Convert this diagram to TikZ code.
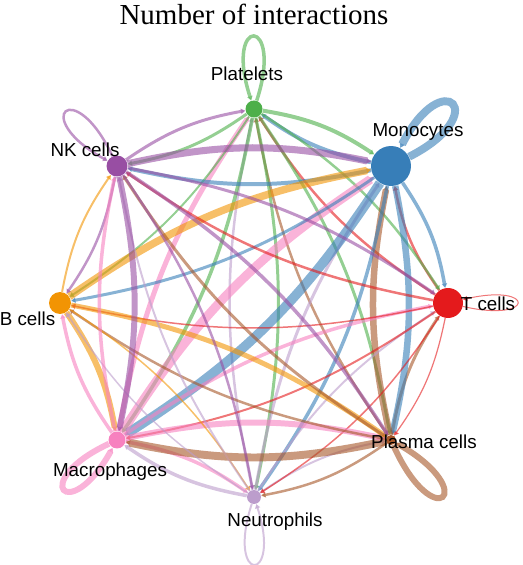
\documentclass[tikz,border=0pt]{standalone}
\usepackage{fontspec}
\setmainfont{Liberation Sans}
\newfontfamily\titlefont{Liberation Serif}
\usetikzlibrary{arrows.meta}
\definecolor{tcol}{HTML}{E41A1C}
\definecolor{monocol}{HTML}{377EB8}
\definecolor{pltcol}{HTML}{4DAF4A}
\definecolor{nkcol}{HTML}{984EA3}
\definecolor{bcol}{HTML}{F29403}
\definecolor{macrocol}{HTML}{F781BF}
\definecolor{neutcol}{HTML}{BC9DCC}
\definecolor{plasmacol}{HTML}{A65628}
\def\link[#1](#2)(#3){\draw[chord,#1] (#2) to[bend left=12] (#3);}
\def\selfloop[#1](#2)(#3:#4:#5){\draw[chord,#1] (#2) to[out=#3,in=#4,distance=#5] (#2);}

\begin{document}
\begin{tikzpicture}[x=0.02cm,y=0.02cm,
  cellnode/.style={circle,inner sep=0pt},
  chord/.style={opacity=.6,-{Triangle[length=2.5pt,width=3pt]}},
  lbl/.style={anchor=base,font=\fontsize{10.7}{12}\selectfont}]
			%%%%% START %%%%%
			\useasboundingbox (0,0) rectangle (522,565);
			
			\node[anchor=base,font=\titlefont\fontsize{16.5}{20}\selectfont] (title) at (254,540) {Number of interactions};
			
			\node[cellnode,fill=pltcol,minimum size=0.34cm] (plt) at (254,456) {};
			\node[cellnode,fill=monocol,minimum size=0.8cm] (mono) at (391,399) {};
			\node[cellnode,fill=tcol,minimum size=0.6cm] (tcell) at (448,262) {};
			\node[cellnode,fill=plasmacol,minimum size=0.2cm] (plasma) at (391,125) {};
			\node[cellnode,fill=neutcol,minimum size=0.28cm] (neut) at (254,68) {};
			\node[cellnode,fill=macrocol,minimum size=0.34cm] (macro) at (117,125) {};
			\node[cellnode,fill=bcol,minimum size=0.44cm] (bcell) at (60,262) {};
			\node[cellnode,fill=nkcol,minimum size=0.42cm] (nk) at (117,399) {};
			
			% neighbours on the circle
			\link[nkcol,line width=1.7pt](nk)(plt);
			\link[pltcol,line width=1.7pt](plt)(nk);
			\link[pltcol,line width=2.27pt](plt)(mono);
			\link[monocol,line width=2.27pt](mono)(plt);
			\link[monocol,line width=2pt](mono)(tcell);
			\link[tcol,line width=1.42pt](tcell)(mono);
			\link[tcol,line width=0.7pt](tcell)(plasma);
			\link[plasmacol,line width=1.7pt](plasma)(tcell);
			\link[plasmacol,line width=1.42pt](plasma)(neut);
			\link[neutcol,line width=1.13pt](neut)(plasma);
			\link[neutcol,line width=2pt](neut)(macro);
			\link[macrocol,line width=2pt](macro)(neut);
			\link[macrocol,line width=2pt](macro)(bcell);
			\link[bcol,line width=3.4pt](bcell)(macro);
			\link[bcol,line width=1.13pt](bcell)(nk);
			\link[nkcol,line width=1.42pt](nk)(bcell);
			
			% platelets
			\link[pltcol,line width=1.42pt](plt)(tcell);
			\link[tcol,line width=1.42pt](tcell)(plt);
			\link[pltcol,line width=1.7pt](plt)(plasma);
			\link[plasmacol,line width=1.42pt](plasma)(plt);
			\link[pltcol,line width=1.7pt](plt)(neut);
			\link[neutcol,line width=1.42pt](neut)(plt);
			\link[pltcol,line width=2pt](plt)(macro);
			\link[macrocol,line width=2.84pt](macro)(plt);
			\link[pltcol,line width=1.13pt](plt)(bcell);
			
			% monocytes
			\link[nkcol,line width=4pt](nk)(mono);
			\link[monocol,line width=2.27pt](mono)(nk);
			\link[monocol,line width=3.7pt](mono)(plasma);
			\link[plasmacol,line width=3.7pt](plasma)(mono);
			\link[monocol,line width=2pt](mono)(neut);
			\link[neutcol,line width=1.7pt](neut)(mono);
			\link[monocol,line width=5.4pt](mono)(macro);
			\link[macrocol,line width=5.1pt](macro)(mono);
			\link[monocol,line width=1.7pt](mono)(bcell);
			\link[bcol,line width=4.25pt](bcell)(mono);
			
			% T cells
			\link[tcol,line width=0.85pt](tcell)(neut);
			\link[neutcol,line width=1.13pt](neut)(tcell);
			\link[tcol,line width=1.13pt](tcell)(macro);
			\link[macrocol,line width=2pt](macro)(tcell);
			\link[tcol,line width=0.85pt](tcell)(bcell);
			\link[tcol,line width=1.42pt](tcell)(nk);
			\link[nkcol,line width=1.7pt](nk)(tcell);
			
			% plasma cells
			\link[plasmacol,line width=4.5pt](plasma)(macro);
			\link[macrocol,line width=3.4pt](macro)(plasma);
			\link[plasmacol,line width=1.42pt](plasma)(bcell);
			\link[bcol,line width=2.84pt](bcell)(plasma);
			\link[plasmacol,line width=1.7pt](plasma)(nk);
			\link[nkcol,line width=2pt](nk)(plasma);
			
			% the rest
			\link[neutcol,line width=0.85pt](neut)(bcell);
			\link[bcol,line width=0.85pt](bcell)(neut);
			\link[neutcol,line width=1.13pt](neut)(nk);
			\link[nkcol,line width=1.42pt](nk)(neut);
			\link[macrocol,line width=2pt](macro)(nk);
			\link[nkcol,line width=3.4pt](nk)(macro);
			
			% self loops
			\selfloop[pltcol,line width=2pt](plt)(72:108:1.8cm);
			\selfloop[monocol,line width=4.5pt](mono)(27:63:1.9cm);
			\selfloop[nkcol,line width=1.42pt](nk)(115:151:1.8cm);
			\selfloop[tcol,line width=0.57pt](tcell)(-13:13:1.5cm);
			\selfloop[plasmacol,line width=3.4pt](plasma)(-66:-30:2cm);
			\selfloop[neutcol,line width=1.13pt](neut)(-108:-72:1.7cm);
			\selfloop[macrocol,line width=3.4pt](macro)(205:241:1.8cm);
			
			\node[lbl] (pltlbl) at (247,484.5) {Platelets};
			\node[lbl] (monolbl) at (418,428.5) {Monocytes};
			\node[lbl] (nklbl) at (85,408.5) {NK cells};
			\node[lbl] (blbl) at (27.5,239.5) {B cells};
			\node[lbl] (tlbl) at (488,254.5) {T cells};
			\node[lbl] (plasmalbl) at (424,116.5) {Plasma cells};
			\node[lbl] (macrolbl) at (110,88.5) {Macrophages};
			\node[lbl] (neutlbl) at (275,38.5) {Neutrophils};
			%%%%% END %%%%%
\end{tikzpicture}
\end{document}
